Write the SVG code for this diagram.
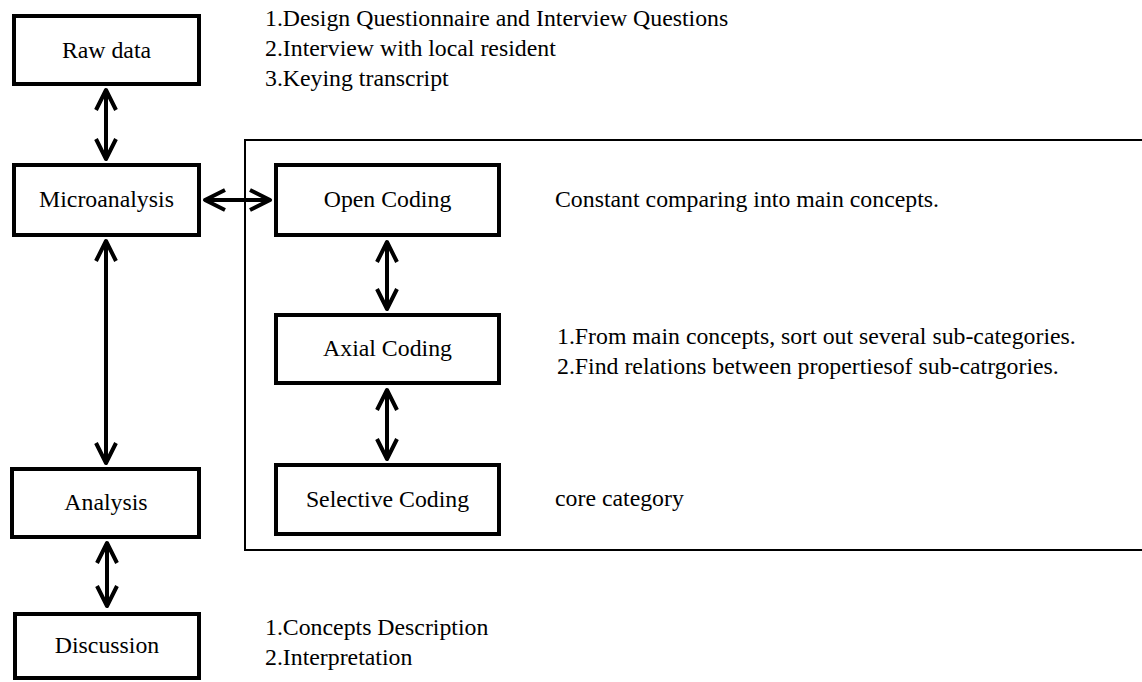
<svg xmlns="http://www.w3.org/2000/svg" width="1142" height="682" viewBox="0 0 1142 682">
  <style>
    .box { fill: #ffffff; stroke: #000000; stroke-width: 4; }
    .frame { fill: none; stroke: #000000; stroke-width: 2; }
    .label { font-family: 'Liberation Serif', 'Times New Roman', Times, 'DejaVu Serif', serif; font-size: 23.8px; fill: #000000; }
    .mid { text-anchor: middle; }
    .link { fill: none; stroke: #000000; stroke-width: 4; marker-start: url(#chevron); marker-end: url(#chevron); }
  </style>
  <defs>
    <!-- open V arrowhead, used at both ends of every two-way connector -->
    <marker id="chevron" markerUnits="userSpaceOnUse" viewBox="-26 -14 32 28" markerWidth="32" markerHeight="28" refX="-2" refY="0" orient="auto-start-reverse">
      <path d="M -20 -10 L 0 0 L -20 10" fill="none" stroke="#000000" stroke-width="4" stroke-linejoin="round" stroke-linecap="butt"/>
    </marker>
  </defs>

  <rect width="1142" height="682" fill="#ffffff"/>

  <!-- coding stage frame, open past the right edge -->
  <rect id="coding-frame" class="frame" x="245" y="140" width="920" height="410"/>

  <g id="connectors">
    <line class="link" x1="106" y1="92" x2="106" y2="157"/>
    <line class="link" x1="106" y1="243" x2="106" y2="461"/>
    <line class="link" x1="107" y1="545" x2="107" y2="604"/>
    <line class="link" x1="207" y1="200" x2="268" y2="200"/>
    <line class="link" x1="387" y1="244" x2="387" y2="307"/>
    <line class="link" x1="387" y1="392" x2="387" y2="457"/>
  </g>

  <g font-family="Liberation Serif, Times New Roman, serif">
    <g id="raw-data">
      <rect class="box" x="14" y="16" width="185" height="68"/>
      <text class="label mid" x="106.5" y="57.5">Raw data</text>
    </g>
    <g id="microanalysis">
      <rect class="box" x="14" y="165" width="185" height="70"/>
      <text class="label mid" x="106.5" y="206.5">Microanalysis</text>
    </g>
    <g id="analysis">
      <rect class="box" x="12" y="469" width="187" height="68"/>
      <text class="label mid" x="106" y="510">Analysis</text>
    </g>
    <g id="discussion">
      <rect class="box" x="15" y="614" width="184" height="64"/>
      <text class="label mid" x="107" y="653">Discussion</text>
    </g>
    <g id="open-coding">
      <rect class="box" x="276" y="165" width="223" height="70"/>
      <text class="label mid" x="387.5" y="207">Open Coding</text>
    </g>
    <g id="axial-coding">
      <rect class="box" x="276" y="315" width="223" height="68"/>
      <text class="label mid" x="387.5" y="356">Axial Coding</text>
    </g>
    <g id="selective-coding">
      <rect class="box" x="276" y="465" width="223" height="69"/>
      <text class="label mid" x="387.5" y="507">Selective Coding</text>
    </g>

    <g id="notes">
      <text class="label" x="265" y="26">1.Design Questionnaire and Interview Questions</text>
      <text class="label" x="265" y="56">2.Interview with local resident</text>
      <text class="label" x="265" y="86">3.Keying transcript</text>
      <text class="label" x="555" y="207">Constant comparing into main concepts.</text>
      <text class="label" x="557" y="344">1.From main concepts, sort out several sub-categories.</text>
      <text class="label" x="557" y="374">2.Find relations between propertiesof sub-catrgories.</text>
      <text class="label" x="555" y="506">core category</text>
      <text class="label" x="265" y="635">1.Concepts Description</text>
      <text class="label" x="265" y="665">2.Interpretation</text>
    </g>
  </g>
</svg>
